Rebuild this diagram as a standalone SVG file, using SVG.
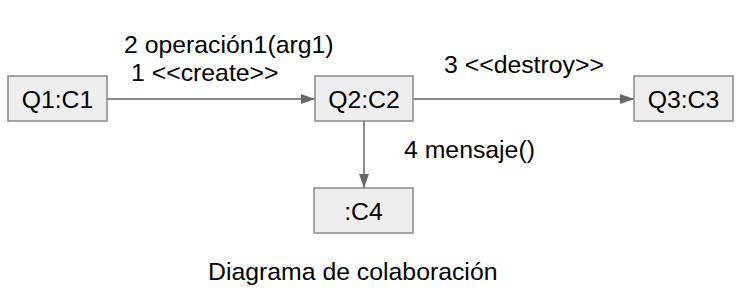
<svg xmlns="http://www.w3.org/2000/svg" width="750" height="302" viewBox="0 0 750 302">
<style>
.box{fill:#eeeeee;stroke:#888888;stroke-width:1.5}
.t{font-family:"Liberation Sans",Arial,sans-serif;font-size:24.8px;fill:#000}
.c{text-anchor:middle}
.ln{stroke:#666666;stroke-width:1.5;fill:none}
</style>
<defs>
<marker id="ah" markerWidth="14" markerHeight="10" refX="14" refY="5" orient="auto" markerUnits="userSpaceOnUse">
<path d="M0,0 L14,5 L0,10 Z" fill="#666666"/>
</marker>
</defs>
<rect width="750" height="302" fill="#ffffff"/>
<g id="connectors">
<line class="ln" x1="107" y1="99" x2="315" y2="99" marker-end="url(#ah)"/>
<line class="ln" x1="413" y1="99" x2="634" y2="99" marker-end="url(#ah)"/>
<line class="ln" x1="364" y1="121" x2="364" y2="188" marker-end="url(#ah)"/>
<text class="t" x="124" y="53">2 operación1(arg1)</text>
<text class="t" x="131" y="81">1 &lt;&lt;create&gt;&gt;</text>
<text class="t" x="444" y="73">3 &lt;&lt;destroy&gt;&gt;</text>
<text class="t" x="404" y="158">4 mensaje()</text>
</g>
<g id="Q1C1">
<rect class="box" x="8" y="76" width="99" height="45"/>
<text class="t c" x="57.5" y="107.5">Q1:C1</text>
</g>
<g id="Q2C2">
<rect class="box" x="315" y="76" width="98" height="45"/>
<text class="t c" x="364" y="107.5">Q2:C2</text>
</g>
<g id="Q3C3">
<rect class="box" x="634" y="76" width="99" height="45"/>
<text class="t c" x="683.5" y="107.5">Q3:C3</text>
</g>
<g id="C4">
<rect class="box" x="314" y="188" width="99" height="45"/>
<text class="t c" x="363.5" y="219.5">:C4</text>
</g>
<text class="t" x="208" y="280">Diagrama de colaboración</text>
</svg>
